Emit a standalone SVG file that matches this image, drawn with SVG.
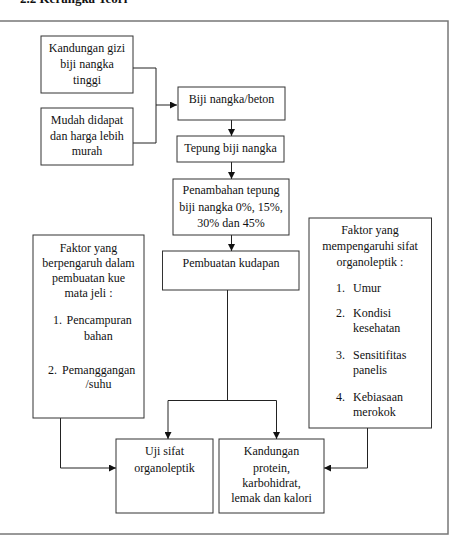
<svg xmlns="http://www.w3.org/2000/svg" width="451" height="539" viewBox="0 0 451 539" font-family="'Liberation Serif', 'Times New Roman', 'DejaVu Serif', serif">
<style>
  text { font-family: "Liberation Serif", "Times New Roman", "DejaVu Serif", serif; font-size: 12px; fill: #111; }
  .c { text-anchor: middle; }
  .box { fill: #fff; stroke: #333; stroke-width: 1; }
  .ln { fill: none; stroke: #222; stroke-width: 1; }
  .title { font-weight: bold; font-size: 13px; }
</style>
<defs>
  <marker id="ah" viewBox="0 0 8 8" refX="8" refY="4" markerWidth="7" markerHeight="7" markerUnits="userSpaceOnUse" orient="auto">
    <path d="M0,0 L8,4 L0,8 z" fill="#111"/>
  </marker>
</defs>
<rect width="451" height="539" fill="#fff"/>
<text class="title" x="20" y="3">2.2  Kerangka Teori</text>
<rect x="-2" y="21" width="450" height="513" fill="none" stroke="#777" stroke-width="1.5"/>

<g id="connectors">
  <path class="ln" d="M133,68 H156 V143 H133"/>
  <path class="ln" d="M156,105 H177" marker-end="url(#ah)"/>
  <path class="ln" d="M231.5,120 V136" marker-end="url(#ah)"/>
  <path class="ln" d="M231.5,162 V179" marker-end="url(#ah)"/>
  <path class="ln" d="M231.5,235 V251" marker-end="url(#ah)"/>
  <path class="ln" d="M227.5,290 V400.5"/>
  <path class="ln" d="M168,400.5 H276.5 V439" marker-end="url(#ah)"/>
  <path class="ln" d="M168,400.5 V439" marker-end="url(#ah)"/>
  <path class="ln" d="M60.5,418 V468 H116" marker-end="url(#ah)"/>
  <path class="ln" d="M367.5,428 V468 H324" marker-end="url(#ah)"/>
</g>

<g id="kandungan-gizi">
  <rect class="box" x="41" y="36" width="92" height="57"/>
  <text class="c" x="87" y="52">Kandungan gizi</text>
  <text class="c" x="87" y="68">biji nangka</text>
  <text class="c" x="87" y="84">tinggi</text>
</g>
<g id="mudah-didapat">
  <rect class="box" x="41" y="108" width="92" height="57"/>
  <text class="c" x="87" y="124">Mudah didapat</text>
  <text class="c" x="87" y="140">dan harga lebih</text>
  <text class="c" x="87" y="155">murah</text>
</g>
<g id="biji-nangka">
  <rect class="box" x="178" y="87" width="107" height="33"/>
  <text class="c" x="231.5" y="103">Biji nangka/beton</text>
</g>
<g id="tepung">
  <rect class="box" x="177" y="136" width="107" height="26"/>
  <text class="c" x="230.5" y="152">Tepung biji nangka</text>
</g>
<g id="penambahan">
  <rect class="box" x="173" y="179" width="116" height="56"/>
  <text class="c" x="231" y="194">Penambahan tepung</text>
  <text class="c" x="231" y="211">biji nangka 0%, 15%,</text>
  <text class="c" x="231" y="227">30% dan 45%</text>
</g>
<g id="pembuatan">
  <rect class="box" x="162.5" y="251" width="136.5" height="39"/>
  <text class="c" x="231" y="267">Pembuatan kudapan</text>
</g>
<g id="faktor-kue">
  <rect class="box" x="33" y="235" width="111" height="183"/>
  <text class="c" x="88.5" y="252">Faktor yang</text>
  <text class="c" x="88.5" y="267">berpengaruh dalam</text>
  <text class="c" x="88.5" y="282">pembuatan kue</text>
  <text class="c" x="88.5" y="297">mata jeli :</text>
  <text x="53" y="324">1.</text>
  <text x="66.5" y="324">Pencampuran</text>
  <text x="84" y="339.5">bahan</text>
  <text x="48" y="374">2.</text>
  <text x="62" y="374">Pemanggangan</text>
  <text x="85.5" y="388">/suhu</text>
</g>
<g id="faktor-organoleptik">
  <rect class="box" x="309" y="218" width="122.5" height="210"/>
  <text class="c" x="370" y="234">Faktor yang</text>
  <text class="c" x="370" y="250">mempengaruhi sifat</text>
  <text class="c" x="370" y="265.5">organoleptik :</text>
  <text x="336" y="292">1.</text>
  <text x="353" y="292">Umur</text>
  <text x="336" y="317">2.</text>
  <text x="353" y="317">Kondisi</text>
  <text x="353" y="332">kesehatan</text>
  <text x="336" y="359">3.</text>
  <text x="353" y="359">Sensitifitas</text>
  <text x="353" y="374">panelis</text>
  <text x="336" y="400.5">4.</text>
  <text x="353" y="400.5">Kebiasaan</text>
  <text x="353" y="415.5">merokok</text>
</g>
<g id="uji-sifat">
  <rect class="box" x="116" y="439" width="97" height="74"/>
  <text class="c" x="164.5" y="455">Uji sifat</text>
  <text class="c" x="164.5" y="471.5">organoleptik</text>
</g>
<g id="kandungan-protein">
  <rect class="box" x="219" y="439" width="105" height="74"/>
  <text class="c" x="271.5" y="455">Kandungan</text>
  <text class="c" x="271.5" y="471.5">protein,</text>
  <text class="c" x="271.5" y="486.5">karbohidrat,</text>
  <text class="c" x="271.5" y="501.5">lemak dan kalori</text>
</g>
</svg>
